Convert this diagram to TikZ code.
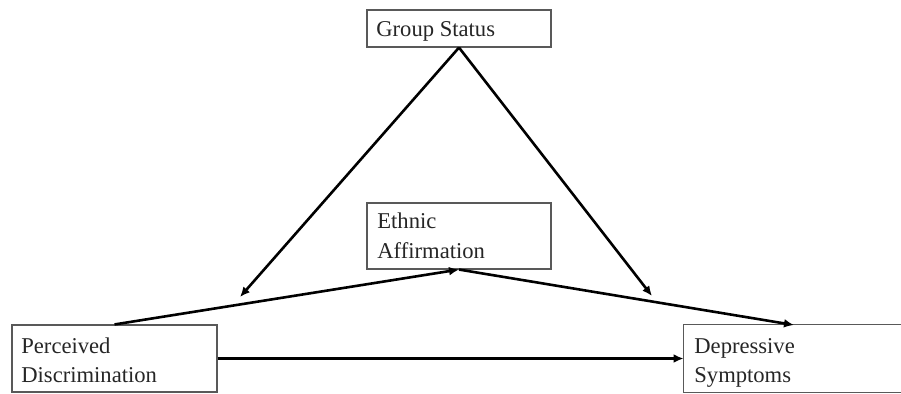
\documentclass[tikz,border=0pt]{standalone}
\usepackage{fontspec}
\setmainfont{Liberation Serif}
\usetikzlibrary{arrows.meta}
\begin{document}
\begin{tikzpicture}[x=0.5pt,y=-0.5pt,
  boxline/.style={draw=black!65,line width=0.55pt},
  box/.style={boxline,rectangle,inner sep=0pt,fill=white},
  lbl/.style={anchor=base west,inner sep=0pt,text=black!85,font=\fontsize{11.3}{15}\selectfont},
  arr/.style={line width=1.3pt,-{Latex[length=5pt,width=4.4pt]}}]
\useasboundingbox (0,0) rectangle (901,393);
\node[box,minimum width=92pt,minimum height=18.5pt] (gs) at (459,28.5) {};
\node[box,minimum width=92pt,minimum height=33pt] (ea) at (459,236) {};
\node[box,minimum width=102.5pt,minimum height=33.5pt] (pd) at (114.5,358.5) {};
\node[rectangle,inner sep=0pt,minimum width=108.5pt,minimum height=33.5pt] (ds) at (792.5,358.5) {};
\draw[boxline] (ds.north east) -- (ds.north west) -- (ds.south west) -- (ds.south east);
\node[lbl] (gst) at (376,36) {Group Status};
\node[lbl] (ea1) at (377,228) {Ethnic};
\node[lbl] (ea2) at (377,258) {Affirmation};
\node[lbl] (pd1) at (21,353) {Perceived};
\node[lbl] (pd2) at (21,382) {Discrimination};
\node[lbl] (ds1) at (694,353) {Depressive};
\node[lbl] (ds2) at (694,382) {Symptoms};
\coordinate (t1) at (240,297);
\coordinate (t2) at (652,296);
\coordinate (t3) at (794,325);
\draw[arr] (gs.south) -- (t1);
\draw[arr] (gs.south) -- (t2);
\draw[arr] (pd.north) -- (ea.south);
\draw[arr] (ea.south) -- (t3);
\draw[arr] (pd.east) -- (ds.west);
\end{tikzpicture}
\end{document}
